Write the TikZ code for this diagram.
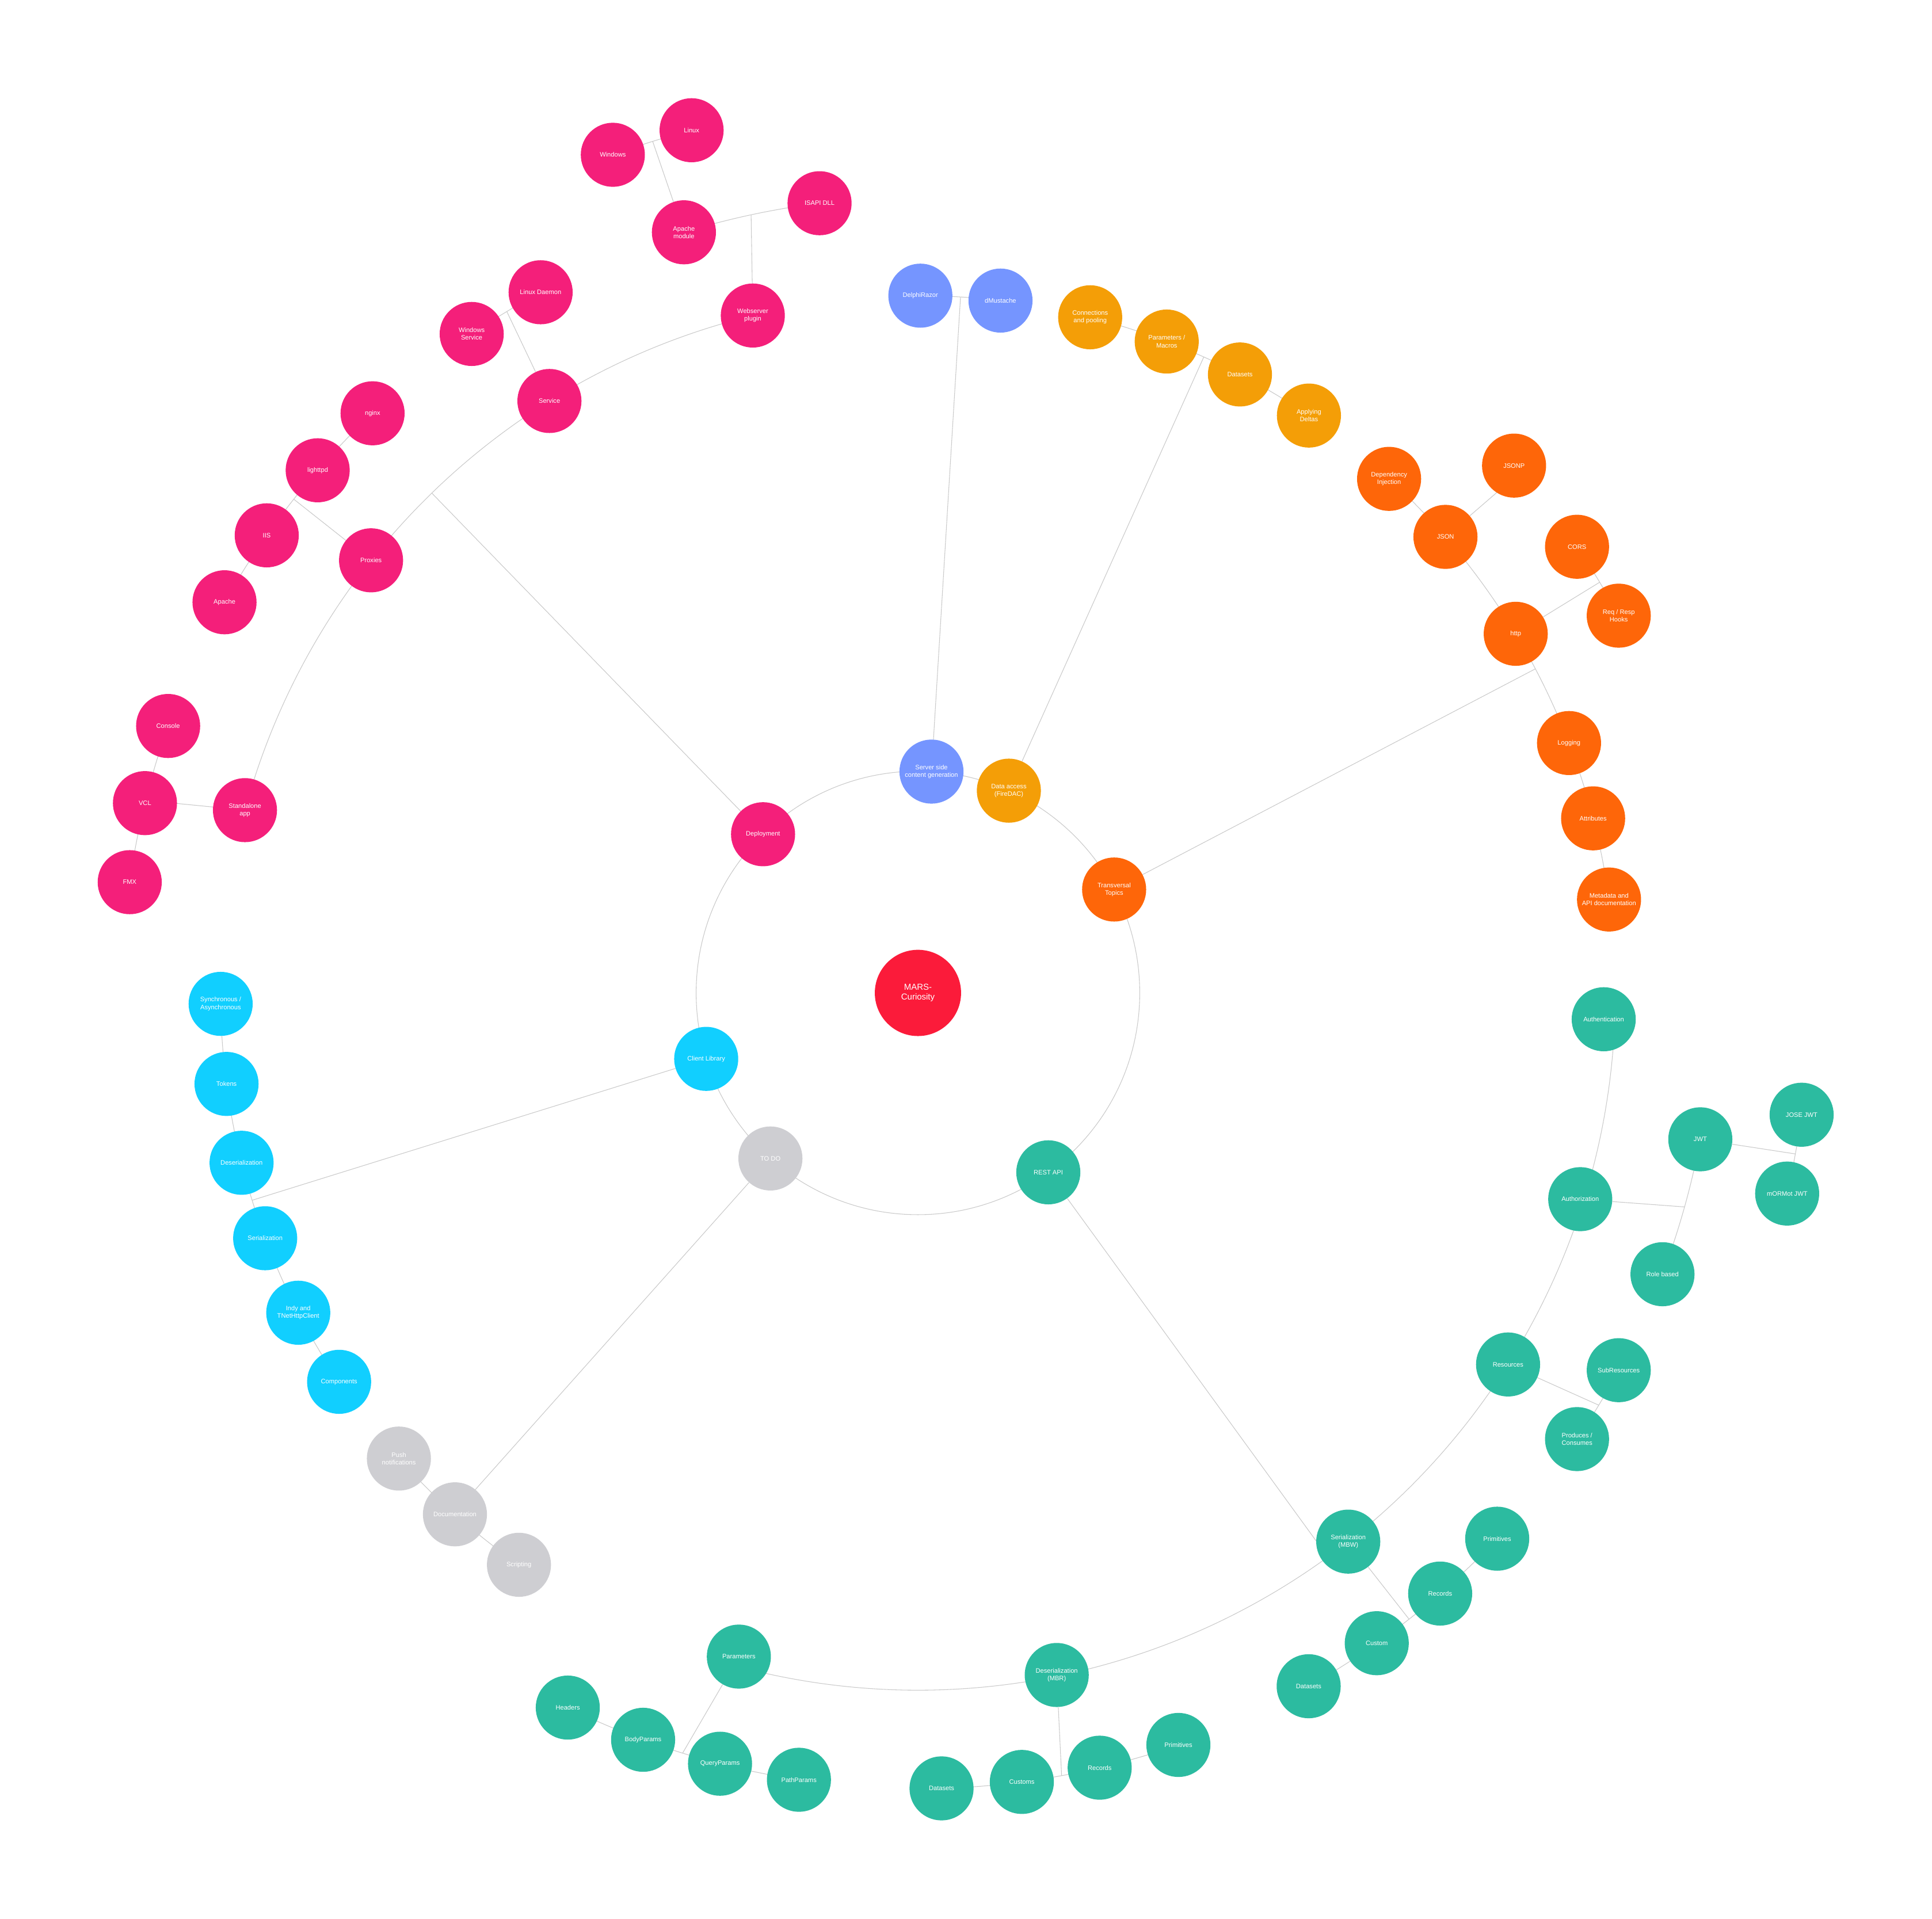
\documentclass[tikz,border=0pt]{standalone}
\usepackage{fontspec}
\setmainfont{Liberation Sans}
\usetikzlibrary{backgrounds}
\definecolor{cred}{HTML}{FB1B3A}
\definecolor{cpink}{HTML}{F41F7A}
\definecolor{cblue}{HTML}{7595FF}
\definecolor{cyell}{HTML}{F49E07}
\definecolor{corange}{HTML}{FE6609}
\definecolor{cteal}{HTML}{2CBBA0}
\definecolor{cgray}{HTML}{CECED2}
\definecolor{ccyan}{HTML}{11CFFF}
\definecolor{lgray}{HTML}{C9C9C9}
\tikzset{
  bub/.style={circle, minimum size=52pt, inner sep=0pt, text=white,
    font=\fontsize{5.2}{6.2}\selectfont, align=center},
  conn/.style={draw=lgray, line width=0.5pt},
  pk/.style={bub, fill=cpink},
  bl/.style={bub, fill=cblue},
  ye/.style={bub, fill=cyell},
  orr/.style={bub, fill=corange},
  te/.style={bub, fill=cteal},
  gr/.style={bub, fill=cgray},
  cy/.style={bub, fill=ccyan}
}
% parent, junction angle, radius, arc start, arc end
\newcommand\mmgroup[5]{%
  \coordinate (j#1) at (#2:#3pt);
  \draw[conn] (#1) -- (j#1);
  \draw[conn] (#4:#3pt) arc[start angle=#4, end angle=#5, radius=#3pt];
}
\begin{document}
\begin{tikzpicture}
\useasboundingbox (-745pt,-751.26pt) rectangle (823pt,806pt);
% center
\node[bub, minimum size=70pt, fill=cred, font=\fontsize{7}{7.9}\selectfont] (mars) at (0,0) {MARS-\\Curiosity};
% level 1
\node[pk] (deploy) at (134.3:180pt) {Deployment};
\node[bl] (server) at (86.5:180pt) {Server side\\content generation};
\node[ye] (data) at (65.8:180pt) {Data access\\(FireDAC)};
\node[orr] (trans) at (27.8:180pt) {Transversal\\Topics};
\node[te] (rest) at (-54.0:180pt) {REST API};
\node[gr] (todo) at (-131.7:180pt) {TO DO};
\node[cy] (client) at (-162.7:180pt) {Client Library};
% level 2
\node[pk] (stand) at (164.8:566pt) {Standalone\\app};
\node[pk] (proxies) at (141.65:566pt) {Proxies};
\node[pk] (service) at (121.9:566pt) {Service};
\node[pk] (webplug) at (103.7:566pt) {Webserver\\plugin};
\node[bl] (razor) at (89.8:566pt) {DelphiRazor};
\node[bl] (mustache) at (83.2:566pt) {dMustache};
\node[ye] (connp) at (75.7:566pt) {Connections\\and pooling};
\node[ye] (params) at (69.1:566pt) {Parameters /\\Macros};
\node[ye] (dsets) at (62.5:566pt) {Datasets};
\node[ye] (deltas) at (55.9:566pt) {Applying\\Deltas};
\node[orr] (di) at (47.5:566pt) {Dependency\\Injection};
\node[orr] (json) at (40.85:566pt) {JSON};
\node[orr] (http) at (31.0:566pt) {http};
\node[orr] (logging) at (21.0:566pt) {Logging};
\node[orr] (attrib) at (14.5:566pt) {Attributes};
\node[orr] (meta) at (7.7:566pt) {Metadata and\\API documentation};
\node[te] (authn) at (-2.2:557pt) {Authentication};
\node[te] (authz) at (-17.3:563pt) {Authorization};
\node[te] (res) at (-32.2:566pt) {Resources};
\node[te] (mbw) at (-51.9:566pt) {Serialization\\(MBW)};
\node[te] (mbr) at (-78.5:565pt) {Deserialization\\(MBR)};
\node[te] (rparams) at (-105.1:558pt) {Parameters};
\node[gr] (push) at (-138.1:566pt) {Push\\notifications};
\node[gr] (doc) at (-131.6:566pt) {Documentation};
\node[gr] (script) at (-124.9:566pt) {Scripting};
\node[cy] (sync) at (-179.1:566pt) {Synchronous /\\Asynchronous};
\node[cy] (tokens) at (-172.5:566pt) {Tokens};
\node[cy] (cdeser) at (-165.9:566pt) {Deserialization};
\node[cy] (cser) at (-159.4:566pt) {Serialization};
\node[cy] (indy) at (-152.7:566pt) {Indy and\\TNetHttpClient};
\node[cy] (comps) at (-146.1:566pt) {Components};
% level 3
\node[pk] (console) at (160.4:646pt) {Console};
\node[pk] (vcl) at (166.2:646pt) {VCL};
\node[pk] (fmx) at (172.0:646pt) {FMX};
\node[pk] (apache) at (150.6:646pt) {Apache};
\node[pk] (iis) at (144.9:646pt) {IIS};
\node[pk] (lighttpd) at (138.95:646pt) {lighttpd};
\node[pk] (nginx) at (133.25:646pt) {nginx};
\node[pk] (winsvc) at (124.1:646pt) {Windows\\Service};
\node[pk] (linuxd) at (118.3:646pt) {Linux Daemon};
\node[pk] (apmod) at (107.1:646pt) {Apache\\module};
\node[pk] (isapi) at (97.1:646pt) {ISAPI DLL};
\node[orr] (jsonp) at (41.5:646pt) {JSONP};
\node[orr] (cors) at (34.1:646pt) {CORS};
\node[orr] (hooks) at (28.3:646pt) {Req / Resp\\Hooks};
\node[te] (jwt) at (-10.6:646pt) {JWT};
\node[te] (role) at (-20.7:646pt) {Role based};
\node[te] (subres) at (-28.3:646pt) {SubResources};
\node[te] (prod) at (-34.1:646pt) {Produces /\\Consumes};
\node[te] (wprim) at (-43.3:646pt) {Primitives};
\node[te] (wrec) at (-49.0:646pt) {Records};
\node[te] (wcust) at (-54.8:646pt) {Custom};
\node[te] (wdata) at (-60.6:646pt) {Datasets};
\node[te] (rprim) at (-70.9:646pt) {Primitives};
\node[te] (rrec) at (-76.8:646pt) {Records};
\node[te] (rcust) at (-82.5:646pt) {Customs};
\node[te] (rdata) at (-88.3:646pt) {Datasets};
\node[te] (headers) at (-116.1:646pt) {Headers};
\node[te] (body) at (-110.2:646pt) {BodyParams};
\node[te] (query) at (-104.4:646pt) {QueryParams};
\node[te] (path) at (-98.6:646pt) {PathParams};
% level 4
\node[pk] (windows) at (110.0:724pt) {Windows};
\node[pk] (linux) at (104.7:724pt) {Linux};
\node[te] (jose) at (-7.85:724pt) {JOSE JWT};
\node[te] (mormot) at (-13.0:724pt) {mORMot JWT};
% connectors
\begin{pgfonlayer}{background}
\draw[conn] (mars) circle[radius=180pt];
\mmgroup{deploy}{134.2}{566}{164.8}{103.7}
\mmgroup{server}{86.5}{566}{89.8}{83.2}
\mmgroup{data}{65.8}{566}{75.7}{55.9}
\mmgroup{trans}{27.7}{566}{47.5}{7.7}
\mmgroup{rest}{-54.0}{566}{-2.2}{-105.1}
\mmgroup{todo}{-131.7}{566}{-138.1}{-124.9}
\mmgroup{client}{-162.7}{566}{-179.1}{-146.1}
\mmgroup{stand}{166.0}{646}{160.4}{172.0}
\mmgroup{proxies}{141.65}{646}{133.25}{150.6}
\mmgroup{service}{121.1}{646}{118.3}{124.1}
\mmgroup{webplug}{102.1}{646}{97.1}{107.1}
\mmgroup{json}{40.85}{646}{40.85}{41.5}
\mmgroup{http}{31.07}{646}{28.3}{34.1}
\mmgroup{authz}{-15.6}{646}{-10.6}{-20.7}
\mmgroup{res}{-31.2}{646}{-28.3}{-34.1}
\mmgroup{mbw}{-51.9}{646}{-43.3}{-60.6}
\mmgroup{mbr}{-79.6}{646}{-70.9}{-88.3}
\mmgroup{rparams}{-107.2}{646}{-98.6}{-116.1}
\mmgroup{apmod}{107.3}{724}{104.7}{110.0}
\mmgroup{jwt}{-10.4}{724}{-7.85}{-13.0}
\end{pgfonlayer}
\end{tikzpicture}
\end{document}
